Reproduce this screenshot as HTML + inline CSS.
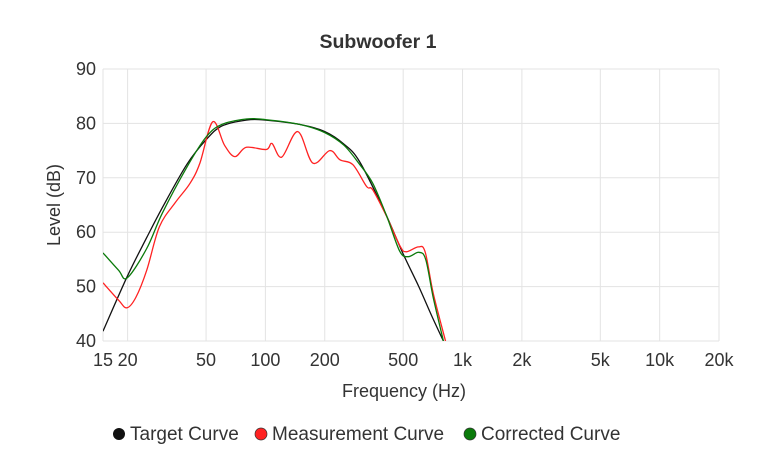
<!DOCTYPE html>
<html><head><meta charset="utf-8"><style>
body{margin:0;background:#fff;font-family:"Liberation Sans",sans-serif;}
svg text{font-family:"Liberation Sans",sans-serif;fill:#333;}
</style></head><body>
<svg id="c" width="770" height="466"></svg>
<script>
const xTicks=[15,20,50,100,200,500,1000,2000,5000,10000,20000];
const xTickLabels=["15","20","50","100","200","500","1k","2k","5k","10k","20k"];
const yTicks=[40,50,60,70,80,90];
const targetF=[15,20,25,30,40,50,60,80,100,150,200,250,300,400,500,600,700,800];
const targetV=[41.8,52,59,64.5,72.5,77,79.5,80.6,80.6,79.8,78.5,76.2,73,64,56,50,44.5,40];
const measF=[15,18,19.8,22,25,29,35,41.5,46.5,54,62,70,80,101,108,121,146,174,212,239,278,326,350,412,483,519,597,646,710,820];
const measV=[50.7,47.5,46.1,48,53,61,65.5,69,72.7,80.3,76,73.9,75.6,75.2,76.3,73.8,78.5,72.7,75,73.3,72.4,68.4,67.8,62.9,57.4,56.4,57.3,56.4,48.8,40];
const corrF=[15,18,19.9,25,30,40,50,60,80,100,150,200,250,300,350,412,480,530,600,650,710,800];
const corrV=[56.2,53,51.6,57,63.5,72,77.5,79.8,80.8,80.7,79.8,78.3,76,72.5,69,63,56.5,55.5,56.3,55,48,40];
const L=103,R=719,T=69,B=341;
const X=f=>L+(R-L)*Math.log10(f/15)/Math.log10(20000/15);
const Y=v=>B-(B-T)*(v-40)/50;
const svg=document.getElementById('c');const NS='http://www.w3.org/2000/svg';
function mk(t,a,txt){const e=document.createElementNS(NS,t);for(const k in a)e.setAttribute(k,a[k]);if(txt!==undefined)e.textContent=txt;svg.appendChild(e);return e;}
const defs=mk('defs',{});const cp=document.createElementNS(NS,'clipPath');cp.setAttribute('id','clip');
const cr=document.createElementNS(NS,'rect');cr.setAttribute('x',L);cr.setAttribute('y',T);cr.setAttribute('width',R-L);cr.setAttribute('height',B-T);cp.appendChild(cr);defs.appendChild(cp);
yTicks.forEach(v=>{const g=mk('line',{x1:L,x2:R,y1:Y(v),y2:Y(v),stroke:'#e3e3e3','stroke-width':1});


const t=mk('text',{x:96,y:Y(v)+6,'text-anchor':'end','font-size':18},String(v));

});
xTicks.forEach((f,i)=>{const g=mk('line',{x1:X(f),x2:X(f),y1:T,y2:B,stroke:'#e3e3e3','stroke-width':1});


const t=mk('text',{x:X(f),y:366,'text-anchor':'middle','font-size':18},xTickLabels[i]);

});
function series(F,V,color,name){
const P=F.map((f,i)=>[X(f),Y(V[i])]);
let d='M'+P[0][0].toFixed(1)+','+P[0][1].toFixed(1);
for(let i=0;i<P.length-1;i++){const p0=P[Math.max(0,i-1)],p1=P[i],p2=P[i+1],p3=P[Math.min(P.length-1,i+2)];
const c1=[p1[0]+(p2[0]-p0[0])/6,p1[1]+(p2[1]-p0[1])/6],c2=[p2[0]-(p3[0]-p1[0])/6,p2[1]-(p3[1]-p1[1])/6];
d+='C'+c1[0].toFixed(1)+','+c1[1].toFixed(1)+' '+c2[0].toFixed(1)+','+c2[1].toFixed(1)+' '+p2[0].toFixed(1)+','+p2[1].toFixed(1);}
const p=mk('path',{d:d,fill:'none',stroke:color,'stroke-width':1.3,'clip-path':'url(#clip)','stroke-linejoin':'round'});

}
series(targetF,targetV,'#111','target-curve-line');
series(measF,measV,'#f22','measurement-curve-line');
series(corrF,corrV,'#0a7a0a','corrected-curve-line');
</script>
<svg width="770" height="466" style="position:absolute;left:0;top:0">
<text x="378" y="48" text-anchor="middle" font-size="19.5" font-weight="bold">Subwoofer 1</text>
<text x="404" y="397" text-anchor="middle" font-size="18">Frequency (Hz)</text>
<text x="60" y="205" text-anchor="middle" font-size="18" transform="rotate(-90 60 205)">Level (dB)</text>
<g><circle cx="119" cy="434" r="6" fill="#111"/><text x="130" y="440" font-size="19">Target Curve</text></g>
<g><circle cx="261" cy="434" r="6" fill="#f22" stroke="#333" stroke-width="0.7"/><text x="272" y="440" font-size="19">Measurement Curve</text></g>
<g><circle cx="470" cy="434" r="6" fill="#0a7a0a" stroke="#333" stroke-width="0.7"/><text x="481" y="440" font-size="19">Corrected Curve</text></g>
</svg>
</body></html>
